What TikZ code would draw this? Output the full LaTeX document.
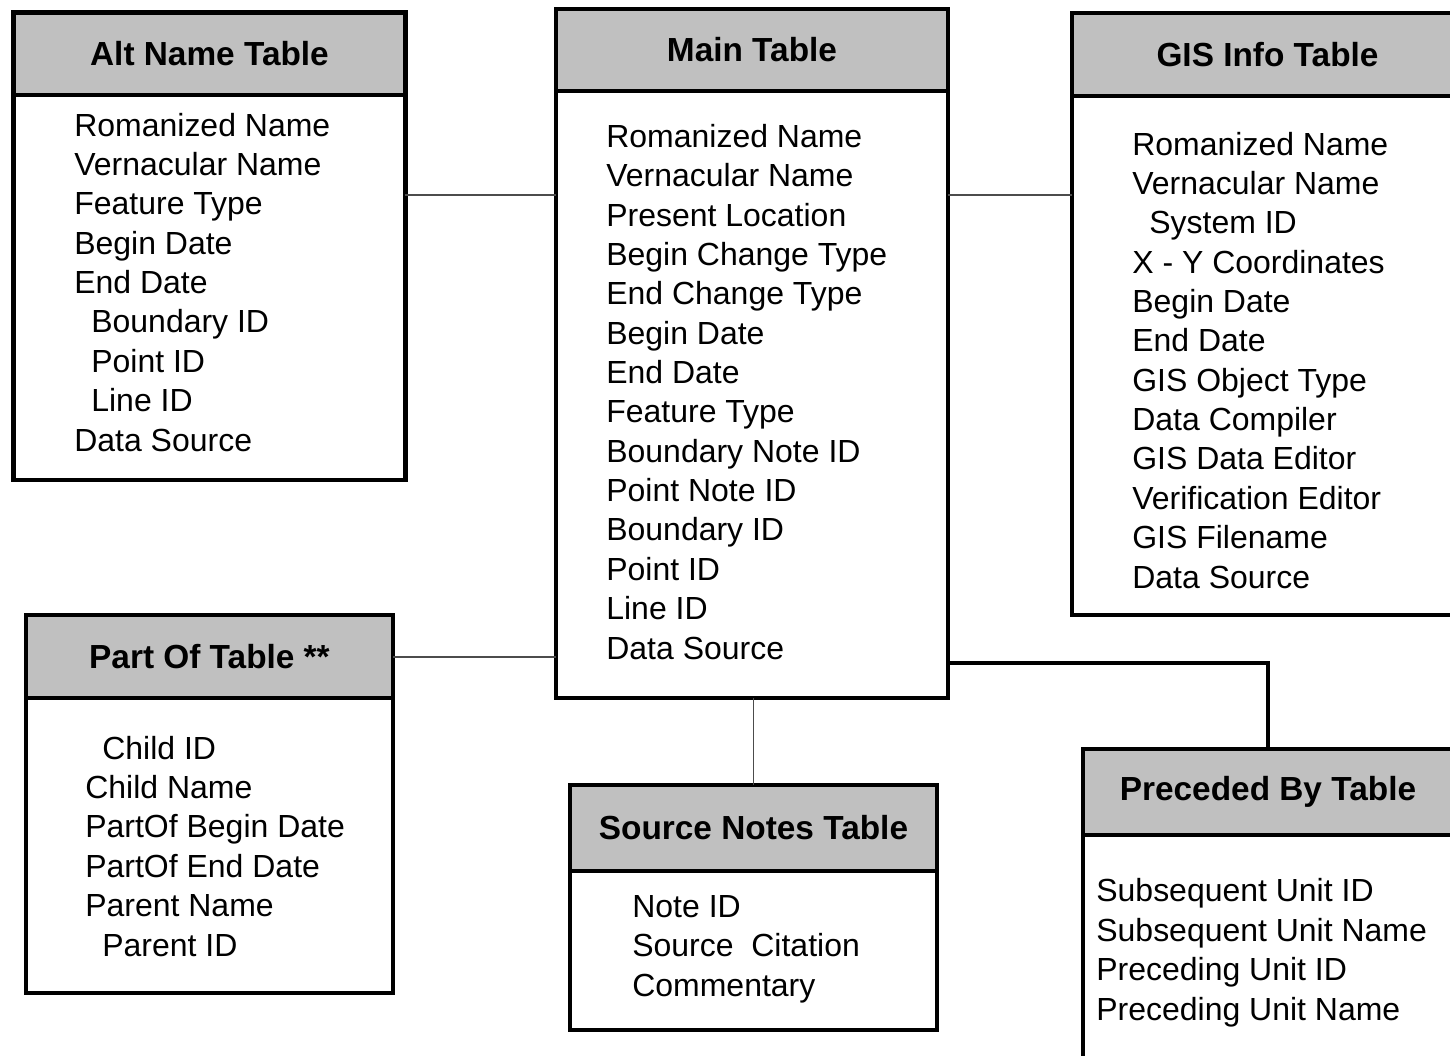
\documentclass[tikz,border=0pt]{standalone}
\usepackage{fontspec}
\setmainfont{Liberation Sans}
\usepackage{xcolor}
\usepackage{tikz}
\usetikzlibrary{positioning}
\definecolor{hdrgray}{RGB}{192,192,192}
\newcommand{\fldind}{\hspace*{0.34cm}}

\begin{document}
\begin{tikzpicture}[x=0.02cm, y=-0.02cm,
  tbl/.style={draw, line width=2.4pt, inner sep=0pt, outer sep=0pt, fill=white},
  tblhead/.style={tbl, anchor=north west, fill=hdrgray, font=\bfseries\fontsize{19}{22}\selectfont},
  fields/.style={anchor=base west, align=left, inner sep=0pt, font=\fontsize{18.2}{22.4}\selectfont},
  link/.style={line width=0.9pt, black!70}]

  % Page frame
  \useasboundingbox (0,0) rectangle (1450,1055);
  \clip (0,0) rectangle (1450,1055);

  % Alt Name Table (field lists sit on the baseline of their last line)
  \node[tblhead, minimum width=7.84cm, minimum height=1.65cm] (alt-h) at (13.5,12.5) {Alt Name Table};
  \node[tbl, minimum width=7.84cm, minimum height=7.70cm, below=0pt of alt-h] (alt) {};
  \node[fields] (alt-f) at (74,451) {Romanized Name\\Vernacular Name\\Feature Type\\Begin Date\\End Date\\
    \fldind Boundary ID\\\fldind Point ID\\\fldind Line ID\\Data Source};

  % Main Table
  \node[tblhead, minimum width=7.84cm, minimum height=1.64cm] (main-h) at (556,9) {Main Table};
  \node[tbl, minimum width=7.84cm, minimum height=12.14cm, below=0pt of main-h] (main) {};
  \node[fields] (main-f) at (606,659) {Romanized Name\\Vernacular Name\\Present Location\\Begin Change Type\\
    End Change Type\\Begin Date\\End Date\\Feature Type\\Boundary Note ID\\Point Note ID\\
    Boundary ID\\Point ID\\Line ID\\Data Source};

  % GIS Info Table (runs past the right edge)
  \node[tblhead, minimum width=7.82cm, minimum height=1.66cm] (gis-h) at (1072,13) {GIS Info Table};
  \node[tbl, minimum width=7.82cm, minimum height=10.38cm, below=0pt of gis-h] (gis) {};
  \node[fields] (gis-f) at (1132,588) {Romanized Name\\Vernacular Name\\\fldind System ID\\X - Y Coordinates\\
    Begin Date\\End Date\\GIS Object Type\\Data Compiler\\GIS Data Editor\\Verification Editor\\
    GIS Filename\\Data Source};

  % Part Of Table
  \node[tblhead, minimum width=7.34cm, minimum height=1.66cm] (part-h) at (26,615) {Part Of Table **};
  \node[tbl, minimum width=7.34cm, minimum height=5.90cm, below=0pt of part-h] (part) {};
  \node[fields] (part-f) at (85,956) {\fldind Child ID\\Child Name\\PartOf Begin Date\\PartOf End Date\\
    Parent Name\\\fldind Parent ID};

  % Source Notes Table
  \node[tblhead, minimum width=7.34cm, minimum height=1.72cm] (src-h) at (570,785) {Source Notes Table};
  \node[tbl, minimum width=7.34cm, minimum height=3.18cm, below=0pt of src-h] (src) {};
  \node[fields] (src-f) at (632,996) {Note ID\\Source\ \ Citation\\Commentary};

  % Preceded By Table (cut off at the bottom)
  \node[tblhead, minimum width=7.40cm, minimum height=1.72cm] (prec-h) at (1083,749) {Preceded By Table};
  \node[tbl, minimum width=7.40cm, minimum height=4.70cm, below=0pt of prec-h] (prec) {};
  \node[fields] (prec-f) at (1096,1020) {Subsequent Unit ID\\Subsequent Unit Name\\Preceding Unit ID\\Preceding Unit Name};

  % Links
  \coordinate (upper) at (0,195);
  \coordinate (lower) at (0,657);
  \coordinate (prec-y) at (0,663);
  \draw[link] (alt.east |- upper) -- (main.west |- upper);
  \draw[link] (main.east |- upper) -- (gis.west |- upper);
  \draw[link] (part.east |- lower) -- (main.west |- lower);
  \draw[link] (src-h.north) -- (main.south -| src-h.north);
  \draw[link, line width=1.8pt, black] (main.east |- prec-y) -| (prec-h.north);
\end{tikzpicture}
\end{document}
